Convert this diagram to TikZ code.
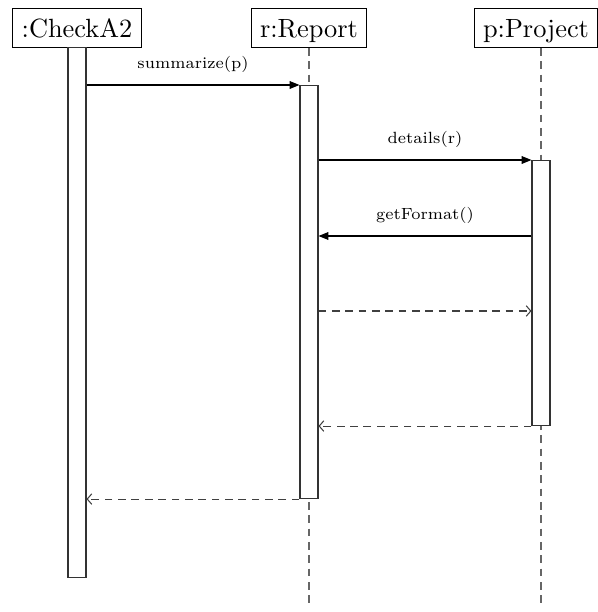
\documentclass[tikz,border=0pt]{standalone}
\usetikzlibrary{arrows.meta}

\begin{document}
\begin{tikzpicture}[line width=0.3pt]

      \tikzstyle{ObjBlock} = [
      rectangle,
      draw=black,
      fill=white,
      scale=0.75,
      inner xsep=3.4pt,
      inner ysep=1.6pt,
      text height=9.3pt,
      text depth=2.2pt,
      anchor=north,
      font=\normalsize
      ]

      \tikzstyle{ActBlock} = [
      rectangle,
      draw=black!80,
      fill=white,
      inner sep=0pt,
      minimum width=0.18cm,
      anchor=north
      ]

      \tikzstyle{LifeLine} = [draw=black!60, dash pattern=on 2.2pt off 1.6pt]
      \tikzstyle{CallArrow} = [-{Triangle[length=2.8pt,width=2.2pt]}]
      \tikzstyle{ReturnArrow} = [-{Straight Barb[length=1.3pt,width=3pt]}, draw=black!75, dash pattern=on 2.2pt off 1.6pt]
      \tikzstyle{MsgLabel} = [above=0.12cm, inner sep=0pt, scale=0.66, font=\scriptsize]

      \useasboundingbox (0,0) rectangle (5.97,-6.12);

      \node (CheckA2) [ObjBlock] at (0.77,-0.083) {:CheckA2};
      \node (Report) [ObjBlock] at (3.09,-0.083) {r:Report};
      \node (Project) [ObjBlock] at (5.36,-0.083) {p:Project};

      \coordinate (ReportEnd) at (3.09,-6.06);
      \coordinate (ProjectEnd) at (5.41,-6.07);

      \draw [LifeLine] (Report.south) -- (ReportEnd);
      \draw [LifeLine] (ProjectEnd |- Project.south) -- (ProjectEnd);

      \node (CheckA2Act) [ActBlock, minimum height=5.30cm] at (0.77,-0.467) {};
      \node (ReportAct) [ActBlock, minimum height=4.13cm] at (3.09,-0.85) {};
      \node (ProjectAct) [ActBlock, minimum height=2.65cm] at (5.41,-1.60) {};

      \draw [CallArrow] (ReportAct.north west -| CheckA2Act.east) -- node[MsgLabel]{summarize(p)} (ReportAct.north west);
      \draw [CallArrow] (ProjectAct.north west -| ReportAct.east) -- node[MsgLabel]{details(r)} (ProjectAct.north west);
      \draw [CallArrow] ([yshift=-0.76cm]ProjectAct.north west) -- node[MsgLabel]{getFormat()} ([yshift=-0.76cm]ProjectAct.north west -| ReportAct.east);
      \draw [ReturnArrow] ([yshift=-1.51cm]ProjectAct.north west -| ReportAct.east) -- ([yshift=-1.51cm]ProjectAct.north west);
      \draw [ReturnArrow] (ProjectAct.south west) -- (ProjectAct.south west -| ReportAct.east);
      \draw [ReturnArrow] (ReportAct.south west) -- (ReportAct.south west -| CheckA2Act.east);

    \end{tikzpicture}
\end{document}
